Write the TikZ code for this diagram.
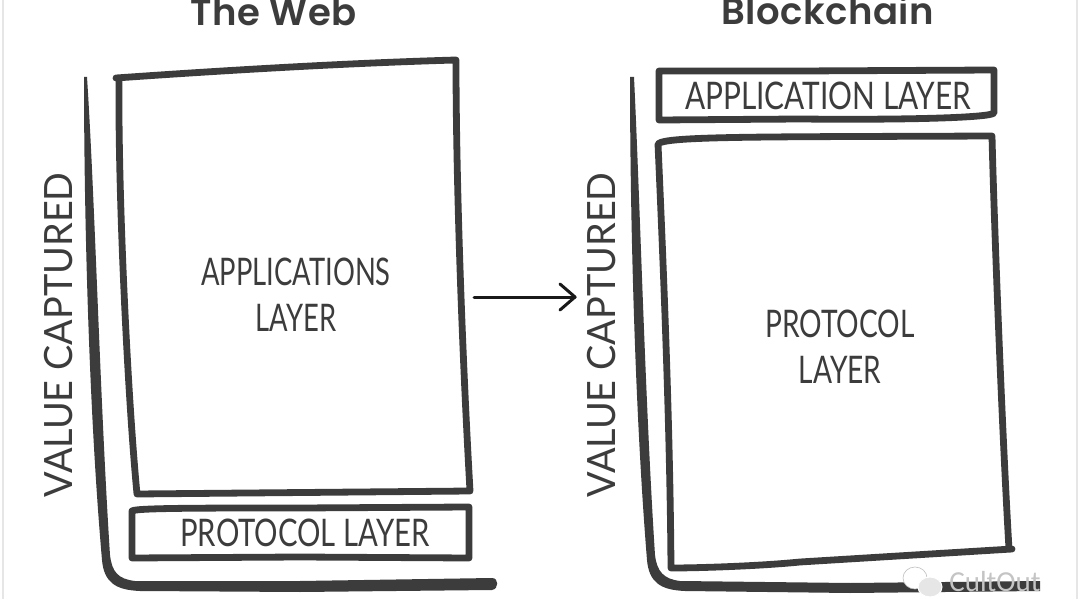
\documentclass[tikz,border=0pt]{standalone}
\usepackage{fontspec}
\setmainfont{Carlito}
\newfontfamily\headfont[BoldFont={Poppins SemiBold},LetterSpace=1.5]{Poppins}
\newfontfamily\handfont{Lato}
\definecolor{ink}{HTML}{3C3C3C}
\definecolor{edge}{HTML}{E6E6E6}
\definecolor{wm}{HTML}{C4C4C4}
\tikzset{
  pen/.style={draw=ink,line width=6.8pt,line cap=round,line join=round},
  axisfill/.style={fill=ink,draw=none},
  heading/.style={font=\headfont\bfseries\fontsize{37}{40}\selectfont,text=ink,inner sep=0pt,anchor=base},
  hand/.style={font=\handfont\fontsize{38}{46}\selectfont,text=ink,inner sep=0pt,align=center,transform shape},
}
\begin{document}
\begin{tikzpicture}[x=1pt,y=-1pt]
\useasboundingbox (0,0) rectangle (1080,599);
\fill[white] (0,0) rectangle (1080,599);
\draw[edge,line width=2pt] (3,0) -- (3,599);
\draw[edge,line width=2pt] (1077,0) -- (1077,599);
% headings
\node[heading] (t1) at (274,26) {\textbf{The Web}};
\node[heading] (t2) at (828,25) {\textbf{Blockchain}};
% axes
\fill[axisfill] (84,77) .. controls (84,200) and (88,400) .. (102,560) .. controls (104,582) and (115,590) .. (140,591) -- (300,592) -- (492,590) .. controls (499,589) and (499,578) .. (492,578) -- (300,581) -- (135,581) .. controls (118,579) and (112,572) .. (110,555) .. controls (100,400) and (95,200) .. (87,77) -- cycle;
\fill[axisfill] (630,77) .. controls (630,200) and (634,400) .. (647,560) .. controls (649,582) and (660,590) .. (685,591) -- (850,593) -- (1040,591) -- (1040,581) -- (850,583) -- (680,581) .. controls (664,579) and (657,572) .. (655,555) .. controls (645,400) and (640,200) .. (634,77) -- cycle;
% left boxes
\draw[pen] (116,78) .. controls (230,70) and (350,63) .. (456,60) .. controls (456,180) and (462,350) .. (470,491) -- (137,494) .. controls (128,400) and (118,200) .. (119,79);
\draw[pen] (132,511) .. controls (135,508) and (200,508) .. (300,508) -- (469,507) -- (469,558) -- (300,557) -- (132,558) -- cycle;
% right boxes
\draw[pen] (659,71) -- (800,71) -- (994,70) -- (994,113) .. controls (990,118) and (900,120) .. (800,119) -- (659,120) -- cycle;
\draw[pen] (658,144) .. controls (665,136) and (760,137) .. (992,136) .. controls (994,220) and (1002,430) .. (1009,549) -- (1012,549) -- (800,562) .. controls (760,566) and (700,568) .. (671,568) .. controls (670,430) and (664,280) .. (658,144) -- cycle;
% labels
\node[hand,xscale=.72] (a1) at (296,295) {APPLICATIONS\\LAYER};
\node[hand,xscale=.77] (p1) at (305,533) {PROTOCOL LAYER};
\node[hand,xscale=.785] (a2) at (828,96) {APPLICATION LAYER};
\node[hand,xscale=.74] (p2) at (840,347) {PROTOCOL\\LAYER};
\node[hand,rotate=90,xscale=.97,font=\handfont\fontsize{39}{46}\selectfont] (v1) at (59,335) {VALUE CAPTURED};
\node[hand,rotate=90,xscale=.97,font=\handfont\fontsize{39}{46}\selectfont] (v2) at (602,335) {VALUE CAPTURED};
% arrow
\coordinate (s) at (474,297);
\coordinate (e) at (575,297);
\draw[black!90,line width=3pt,line cap=round] (s) -- (e);
\draw[black!90,line width=3pt,line cap=round,line join=round] (560,284) -- (e) -- (560,310);
% watermark
\fill[white,draw=gray!50,line width=.6pt] (915,578) ellipse (12 and 11);
\fill[edge,draw=white,line width=1pt] (930,587) ellipse (12 and 10);
\node[inner sep=0pt,text=wm,font=\fontsize{29}{31}\selectfont] (w) at (995,582) {CultOut};
\end{tikzpicture}
\end{document}
